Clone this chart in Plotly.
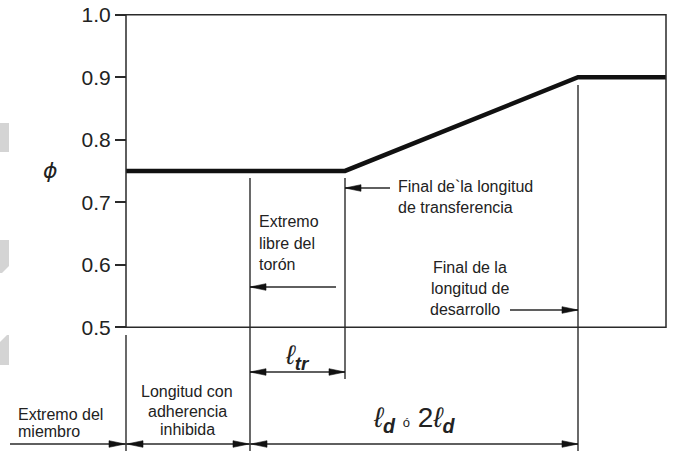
import plotly.graph_objects as go

# ---------------- data ----------------
# positions along the member (arbitrary length units, 0 = end of member)
station_names = ["Extremo del miembro", "Extremo libre del torón",
                 "Final de la longitud de transferencia",
                 "Final de la longitud de desarrollo", "Fin"]
station_x = [0.0, 12.4, 21.9, 45.2, 54.0]

# strength reduction factor phi along the member
phi_x = [0.0, 21.9, 45.2, 54.0]
phi_y = [0.75, 0.75, 0.90, 0.90]

ytick_vals = [0.5, 0.6, 0.7, 0.8, 0.9, 1.0]
ytick_text = ["0.5", "0.6", "0.7", "0.8", "0.9", "1.0"]

# ---------------- layout helpers ----------------
W, H = 675, 451
X_ORIGIN_PX = 126.0   # pixel of member end
PX_PER_X = 10.0
Y_TOP_PX = 14.7       # pixel of phi = 1.0
PX_PER_Y = 625.0

def xp(p):
    return (p - X_ORIGIN_PX) / PX_PER_X

def yp(p):
    return 1.0 + (Y_TOP_PX - p) / PX_PER_Y

x_end, x_free, x_tr, x_dev, x_right = station_x
LC = "#2a2a2a"
FONT = "Liberation Sans, Arial, sans-serif"

fig = go.Figure()
fig.add_trace(go.Scatter(x=phi_x, y=phi_y, mode="lines",
                         line=dict(color="#111111", width=4.5),
                         hoverinfo="skip", showlegend=False))

shapes = []

def line(x0, y0, x1, y1, w=1.4):
    shapes.append(dict(type="line", xref="x", yref="y", x0=x0, y0=y0, x1=x1, y1=y1,
                       line=dict(color=LC, width=w)))

def head(x, y, direction):
    L, hw = 16, 3.3
    if direction == "right":
        path = f"M0,0 L{-L},{hw} L{-L},{-hw} Z"
    else:
        path = f"M0,0 L{L},{hw} L{L},{-hw} Z"
    shapes.append(dict(type="path", xref="x", yref="y", xsizemode="pixel",
                       ysizemode="pixel", xanchor=x, yanchor=y, path=path,
                       fillcolor="#111111", line=dict(color="#111111", width=0.6)))

# grey artefacts at the left edge
for p in ["M0,123 L9,123 L9,152 L0,152 Z",
          "M0,240 L9,240 L9,266 L2,273 L0,273 Z",
          "M0,342 L7,335 L9,335 L9,365 L0,365 Z"]:
    pts = []
    for tok in p.replace("M", " M ").replace("L", " L ").replace("Z", " Z ").split():
        if tok in ("M", "L", "Z"):
            pts.append(tok)
        else:
            a, b = tok.split(",")
            pts.append(f"{xp(float(a))},{yp(float(b))}")
    shapes.append(dict(type="path", xref="x", yref="y", path=" ".join(pts),
                       fillcolor="#d4d4d4", line=dict(width=0), layer="below"))

# frame of the chart
shapes.append(dict(type="rect", xref="x", yref="y", x0=x_end, x1=x_right, y0=0.5, y1=1.0,
                   line=dict(color=LC, width=1.5)))

# vertical reference lines
line(x_end, yp(335), x_end, yp(451))
line(x_free, yp(178), x_free, yp(451))
line(x_tr, yp(178), x_tr, yp(379))
line(x_dev, yp(85), x_dev, yp(451))

# pointer arrows
line(xp(336), yp(287), x_free, yp(287)); head(x_free, yp(287), "left")
line(xp(390), yp(188), x_tr, yp(188)); head(x_tr, yp(188), "left")
line(xp(510), yp(310), x_dev, yp(310)); head(x_dev, yp(310), "right")

# dimension arrows
line(x_free, yp(372), x_tr, yp(372)); head(x_free, yp(372), "left"); head(x_tr, yp(372), "right")
yb = yp(444)
line(xp(10), yb, x_end, yb); head(x_end - 0.1, yb, "right")
line(x_end, yb, x_free, yb); head(x_end + 0.1, yb, "left"); head(x_free - 0.1, yb, "right")
line(x_free, yb, x_dev, yb); head(x_free + 0.1, yb, "left"); head(x_dev, yb, "right")

annotations = []

def txt(s, xpx, ypx, anchor="left", size=16, family=FONT):
    annotations.append(dict(text=s, x=xp(xpx), y=yp(ypx), xref="x", yref="y",
                            showarrow=False, xanchor=anchor, yanchor="middle",
                            font=dict(size=size, family=family, color="#222222")))

txt("Extremo", 257, 221)
txt("libre del", 257, 243)
txt("torón", 257, 264)

txt("Final de`la longitud", 396, 186)
txt("de transferencia", 396, 207)

txt("Final de la", 431, 267)
txt("longitud de", 429, 288)
txt("desarrollo", 428, 309)

txt("Extremo del", 16, 414)
txt("miembro", 16, 431)

txt("Longitud con", 187, 391, anchor="center")
txt("adherencia", 187, 411, anchor="center")
txt("inhibida", 187, 429, anchor="center")

txt("<i>ℓ</i><sub><b><i>tr</i></b></sub>", 297, 357, anchor="center", size=27)
txt("<i>ℓ</i><sub><b><i>d</i></b></sub> <span style='font-size:13px'>ó</span> "
    "2<i>ℓ</i><sub><b><i>d</i></b></sub>", 414, 419, anchor="center", size=28)

txt("<i>ϕ</i>", 50, 170, anchor="center", size=22, family="DejaVu Sans")

fig.update_layout(
    width=W, height=H,
    margin=dict(l=0, r=0, t=0, b=0),
    paper_bgcolor="white", plot_bgcolor="white",
    xaxis=dict(visible=False, range=[xp(0), xp(W)], fixedrange=True),
    yaxis=dict(range=[yp(H), yp(0)], anchor="free", position=X_ORIGIN_PX / W,
               tickvals=ytick_vals, ticktext=ytick_text, ticks="outside",
               ticklen=11, tickwidth=1.5, tickcolor=LC, fixedrange=True,
               showgrid=False, zeroline=False, showline=False,
               tickfont=dict(size=21, family=FONT, color="#222222")),
    shapes=shapes, annotations=annotations, showlegend=False,
)

fig.write_html("out.html", config={"displayModeBar": False},
               post_script="document.body.style.margin='0';document.body.style.overflow='hidden';")
